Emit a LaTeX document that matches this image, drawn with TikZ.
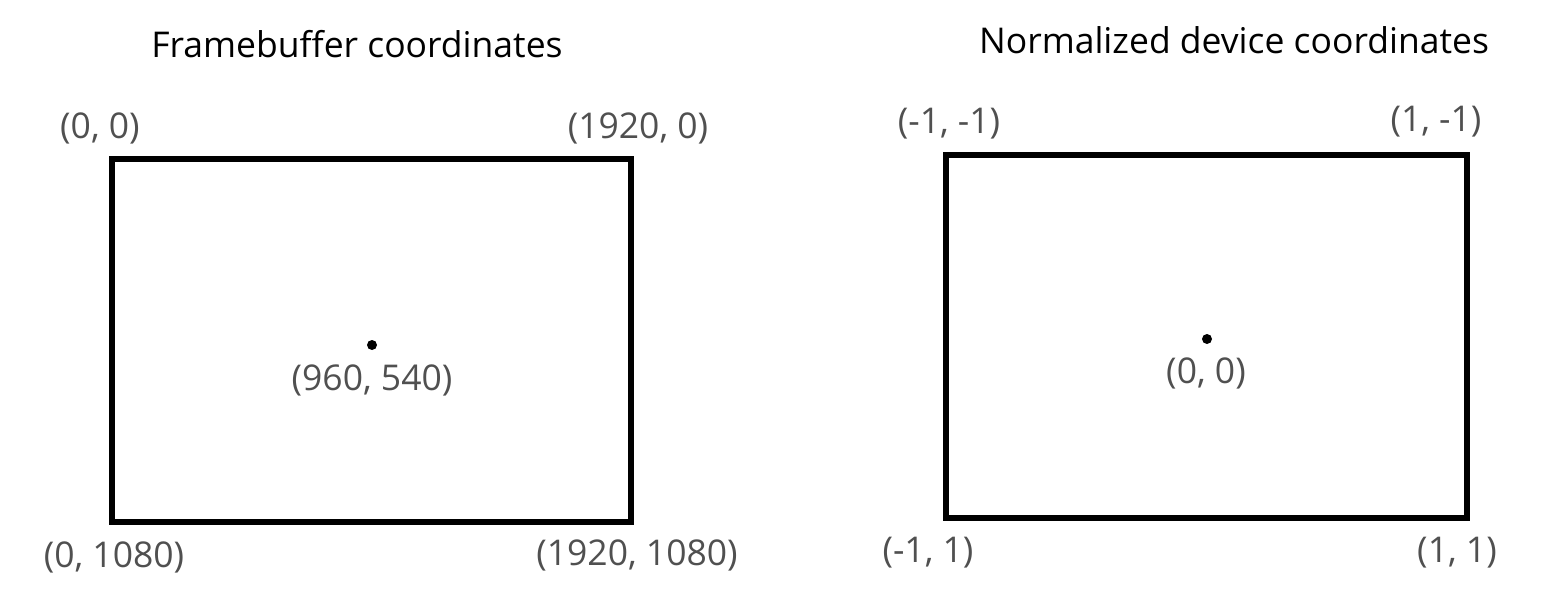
\documentclass[tikz,border=0pt]{standalone}
\usepackage{fontspec}
\setmainfont{Open Sans}
\usetikzlibrary{positioning}
\definecolor{LabelGray}{RGB}{80,80,80}
\definecolor{FrameBlack}{RGB}{0,0,0}

\begin{document}
\begin{tikzpicture}[x=1pt,y=-1pt,
    frame/.style={draw=FrameBlack,line width=5.5pt},
    title/.style={font=\fontsize{35.5}{40}\selectfont,text=black},
    corner/.style={font=\fontsize{35.5}{40}\selectfont,text=LabelGray,inner sep=0pt}]
  \useasboundingbox (0,0) rectangle (1551,599);
  % Titles
  \node[title] (fbtitle) at (357,44) {Framebuffer coordinates};
  \node[title] (ndctitle) at (1234,40) {Normalized device coordinates};
  % Framebuffer frame
  \node[frame,minimum width=519pt,minimum height=363pt,inner sep=0pt]
    (fb) at (371.5,340.5) {};
  \fill (372,345) circle(5pt) coordinate (fbdot);
  \node[corner] (fbtl) at (100,128) {(0, 0)};
  \node[corner] (fbtr) at (638,128) {(1920, 0)};
  \node[corner] (fbbl) at (114,557) {(0, 1080)};
  \node[corner] (fbbr) at (637,555) {(1920, 1080)};
  \node[corner] (fbc) at (372,380) {(960, 540)};
  % Normalized device frame
  \node[frame,minimum width=521pt,minimum height=363pt,inner sep=0pt]
    (ndc) at (1206.5,336.5) {};
  \fill (1207,339) circle(5pt) coordinate (ndcdot);
  \node[corner] (ndctl) at (949,124) {(-1, -1)};
  \node[corner] (ndctr) at (1436,122) {(1, -1)};
  \node[corner] (ndcbl) at (928,553) {(-1, 1)};
  \node[corner] (ndcbr) at (1457,553) {(1, 1)};
  \node[corner] (ndcc) at (1206,373) {(0, 0)};
\end{tikzpicture}
\end{document}
